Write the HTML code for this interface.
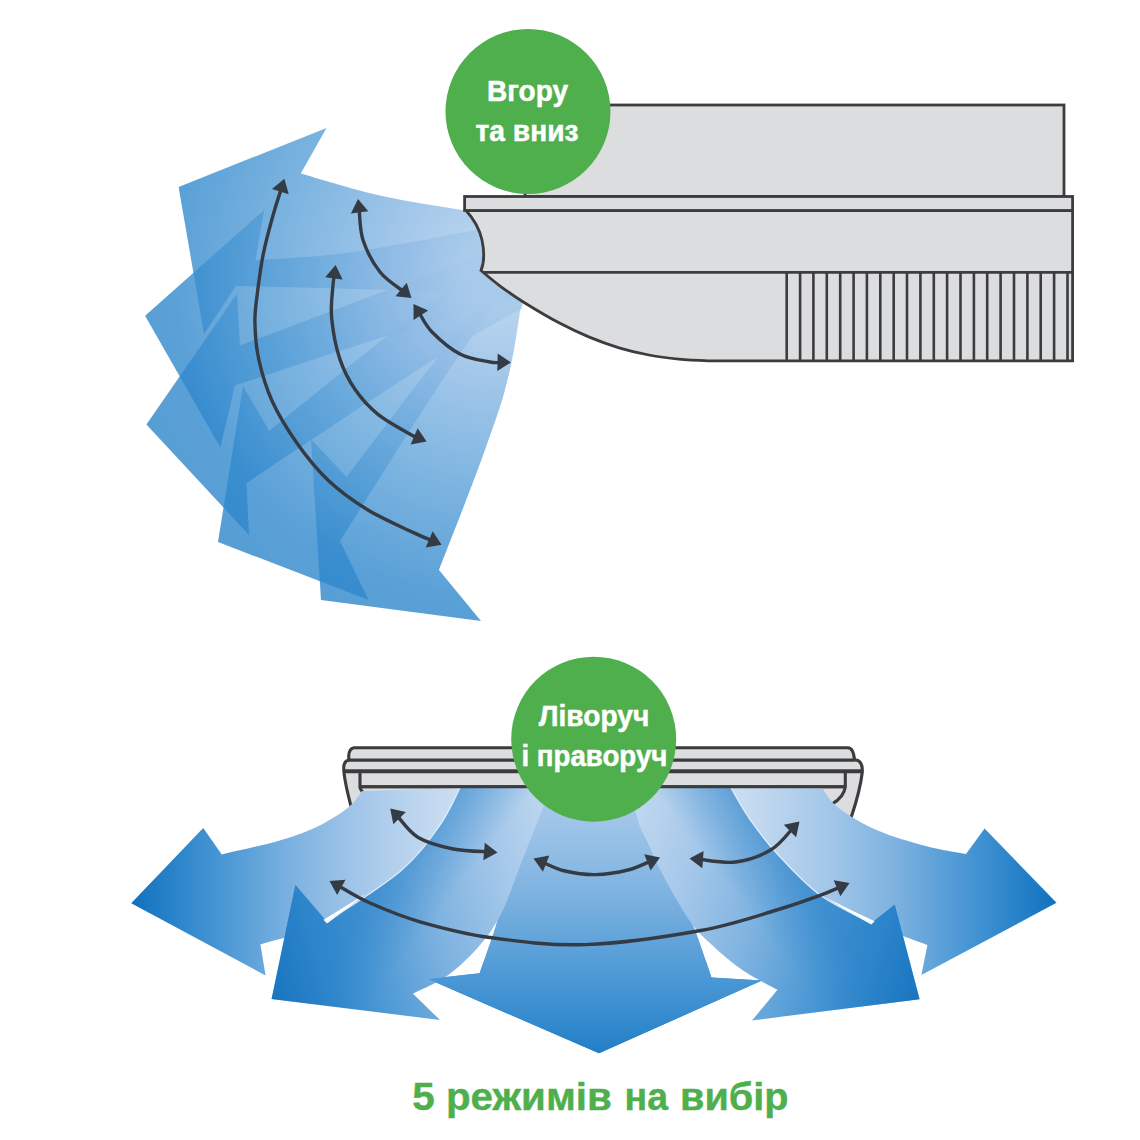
<!DOCTYPE html>
<html lang="uk"><head><meta charset="utf-8"><title>5 режимів на вибір</title>
<style>
html,body{margin:0;padding:0;background:#fff;}
body{width:1140px;height:1140px;overflow:hidden;position:relative;font-family:"Liberation Sans",sans-serif;}
svg{position:absolute;left:0;top:0;display:block;}
text{font-family:"Liberation Sans",sans-serif;font-weight:bold;}
</style></head><body>
<svg width="1140" height="1140" viewBox="0 0 1140 1140">
<defs>
<radialGradient id="fan" gradientUnits="userSpaceOnUse" cx="500" cy="272" r="390">
<stop offset="0" stop-color="#aacbeb"/>
<stop offset="0.1" stop-color="#a6c9ea"/>
<stop offset="0.26" stop-color="#8ebae5"/>
<stop offset="0.52" stop-color="#62a5da"/>
<stop offset="0.84" stop-color="#3189cd"/>
<stop offset="1" stop-color="#2c85ca"/>
</radialGradient>
<clipPath id="fanclip"><path d="M100,80 L560,80 L560,318 L523,300 C520,330 512,365 505,390 L600,500 L600,660 L100,660 Z"/></clipPath>

<linearGradient id="gL1" gradientUnits="userSpaceOnUse" x1="459" y1="0" x2="131" y2="0"><stop offset="0" stop-color="#cbdef2"/><stop offset="0.07" stop-color="#c5daf0"/><stop offset="0.29" stop-color="#a5c8ea"/><stop offset="0.5" stop-color="#7fb3e0"/><stop offset="0.715" stop-color="#4b98d5"/><stop offset="0.85" stop-color="#2e86cb"/><stop offset="1" stop-color="#1171be"/></linearGradient>
<linearGradient id="gR1" gradientUnits="userSpaceOnUse" x1="728.6" y1="0" x2="1056.6" y2="0"><stop offset="0" stop-color="#cbdef2"/><stop offset="0.07" stop-color="#c5daf0"/><stop offset="0.29" stop-color="#a5c8ea"/><stop offset="0.5" stop-color="#7fb3e0"/><stop offset="0.715" stop-color="#4b98d5"/><stop offset="0.85" stop-color="#2e86cb"/><stop offset="1" stop-color="#1171be"/></linearGradient>
<linearGradient id="gL2" gradientUnits="userSpaceOnUse" x1="621.4" y1="895.8" x2="271.6" y2="999"><stop offset="0" stop-color="#cbdef2"/><stop offset="0.07" stop-color="#c5daf0"/><stop offset="0.29" stop-color="#a5c8ea"/><stop offset="0.5" stop-color="#7fb3e0"/><stop offset="0.715" stop-color="#4b98d5"/><stop offset="0.85" stop-color="#2e86cb"/><stop offset="1" stop-color="#0868b8"/></linearGradient>
<linearGradient id="gR2" gradientUnits="userSpaceOnUse" x1="569.9" y1="896.1" x2="919.6" y2="999.3"><stop offset="0" stop-color="#cbdef2"/><stop offset="0.07" stop-color="#c5daf0"/><stop offset="0.29" stop-color="#a5c8ea"/><stop offset="0.5" stop-color="#7fb3e0"/><stop offset="0.715" stop-color="#4b98d5"/><stop offset="0.85" stop-color="#2e86cb"/><stop offset="1" stop-color="#0868b8"/></linearGradient>
<linearGradient id="gC" gradientUnits="userSpaceOnUse" x1="0" y1="692" x2="0" y2="1092"><stop offset="0" stop-color="#cbdef2"/><stop offset="0.07" stop-color="#c5daf0"/><stop offset="0.29" stop-color="#a5c8ea"/><stop offset="0.5" stop-color="#7fb3e0"/><stop offset="0.715" stop-color="#4b98d5"/><stop offset="0.85" stop-color="#2e86cb"/><stop offset="1" stop-color="#1171be"/></linearGradient>
</defs>
<rect width="1140" height="1140" fill="#fff"/>

<g clip-path="url(#fanclip)" fill="url(#fan)" fill-opacity="0.8">
<path d="M530.0,222.0 C519.5,220.2 492.0,215.4 467.0,211.0 C442.0,206.6 407.7,201.8 380.0,195.5 C352.3,189.2 314.0,177.1 300.8,173.4 L326.5,128.0 L178.6,187.0 L204.0,334.0 L236.0,286.0 C261.7,286.7 338.5,288.3 390.0,290.0 C441.5,291.7 519.2,295.0 545.0,296.0 Z"/>
<path d="M530.0,221.0 C521.2,222.5 507.0,224.8 477.0,230.0 C447.0,235.2 386.9,247.5 350.0,252.5 C313.1,257.5 271.2,258.9 255.5,260.2 L264.2,210.0 L145.1,315.7 L220.3,447.6 L235.0,385.5 C260.3,377.2 335.3,351.9 387.0,336.0 C438.7,320.1 518.7,297.7 545.0,290.0 Z"/>
<path d="M530.0,237.0 C506.7,245.7 438.3,270.9 390.0,289.0 C341.7,307.1 265.0,336.2 240.0,345.6 L237.1,293.5 L146.4,424.4 L249.0,535.0 L246.5,483.0 C278.4,462.0 388.2,388.2 438.0,357.0 C487.8,325.8 527.2,306.2 545.0,296.0 Z"/>
<path d="M530.0,225.0 C506.2,243.5 430.4,301.7 387.0,336.0 C343.6,370.3 288.9,415.1 269.3,430.9 L243.0,386.0 L218.0,542.0 L368.6,600.0 L340.0,541.0 C356.7,514.8 406.7,434.2 440.0,384.0 C473.3,333.8 523.3,264.0 540.0,240.0 Z"/>
<path d="M530.0,240.0 C514.7,259.5 468.6,317.5 438.0,357.0 C407.4,396.5 361.8,457.0 346.5,477.0 L311.0,439.0 L321.0,600.0 L481.0,621.0 L439.0,570.0 C446.7,550.0 473.2,483.3 485.0,450.0 C496.8,416.7 503.2,400.0 510.0,370.0 C516.8,340.0 523.3,286.7 526.0,270.0 Z"/>
</g>
<g stroke="#3c3c3e" stroke-width="2.8" fill="#dcddde" stroke-linejoin="miter">
<rect x="525" y="105" width="539" height="91.5"/>
<path d="M466,210.5 C472,217 479,227 482,240 C484.5,252 484.5,262 481,270.5 C484.1,273.1 492.7,280.5 499.8,285.8 C506.9,291.1 513.8,296.0 523.7,302.2 C533.7,308.4 548.6,317.3 559.5,323.1 C570.4,328.9 579.4,333.0 589.3,337.1 C599.2,341.2 609.2,344.8 619.1,347.8 C629.0,350.8 639.0,353.1 648.9,355.0 C658.8,356.9 668.8,358.2 678.8,359.2 C688.8,360.2 698.4,360.5 708.6,360.8 C718.8,361.1 727.1,360.9 740.0,360.9 C752.9,360.9 778.3,360.9 786.0,360.9 L1072.6,360.9 L1072.6,210.5 Z"/>
<rect x="464.6" y="196.5" width="608" height="14"/>
<path d="M483,272.3 L1072.6,272.3" fill="none"/>
<path d="M786.7,272.3 V360.9 M800.1,272.3 V360.9 M813.4,272.3 V360.9 M826.8,272.3 V360.9 M840.2,272.3 V360.9 M853.6,272.3 V360.9 M866.9,272.3 V360.9 M880.3,272.3 V360.9 M893.7,272.3 V360.9 M907.0,272.3 V360.9 M920.4,272.3 V360.9 M933.8,272.3 V360.9 M947.1,272.3 V360.9 M960.5,272.3 V360.9 M973.9,272.3 V360.9 M987.2,272.3 V360.9 M1000.6,272.3 V360.9 M1014.0,272.3 V360.9 M1027.4,272.3 V360.9 M1040.7,272.3 V360.9 M1054.1,272.3 V360.9 M1067.5,272.3 V360.9 " fill="none" stroke-width="2.6"/>
</g>
<path d="M281.6,187.8 C280.1,192.5 276.0,204.7 272.9,215.8 C269.8,226.9 265.8,241.5 263.2,254.4 C260.6,267.3 258.8,281.7 257.4,293.0 C256.0,304.3 254.7,311.1 254.9,322.0 C255.1,332.9 255.7,345.4 258.6,358.6 C261.5,371.8 265.7,386.9 272.1,401.0 C278.5,415.1 287.9,430.3 297.2,443.5 C306.5,456.7 316.5,469.2 328.1,480.2 C339.7,491.1 352.6,500.5 366.7,509.2 C380.8,517.9 402.0,527.1 413.0,532.4 C424.0,537.7 429.6,539.5 432.9,541.0" fill="none" stroke="#343b44" stroke-width="3.4"/><polygon points="284.4,178.8 288.7,194.3 272.0,189.1" fill="#343b44"/><polygon points="441.6,544.7 425.7,547.4 432.7,531.3" fill="#343b44"/>
<path d="M334.4,274.4 C334.1,276.6 333.2,280.6 332.7,288.0 C332.2,295.4 330.5,306.8 331.7,318.6 C332.9,330.4 335.8,346.8 339.7,358.6 C343.6,370.4 348.7,380.2 355.1,389.5 C361.5,398.8 368.7,406.9 378.3,414.6 C387.9,422.3 406.4,431.9 413.0,435.8 C419.6,439.7 417.1,437.5 417.9,437.9" fill="none" stroke="#343b44" stroke-width="3.4"/><polygon points="335.6,265.0 342.6,279.5 325.2,277.3" fill="#343b44"/><polygon points="426.6,441.6 410.7,444.4 417.6,428.3" fill="#343b44"/>
<path d="M359.1,208.4 C359.8,213.7 359.5,229.4 363.0,240.0 C366.5,250.6 373.1,263.3 380.0,272.0 C386.9,280.7 400.2,288.7 404.2,292.0" fill="none" stroke="#343b44" stroke-width="3.4"/><polygon points="358.0,199.0 368.3,211.3 350.9,213.5" fill="#343b44"/><polygon points="411.5,298.0 395.5,296.2 406.7,282.7" fill="#343b44"/>
<path d="M418.7,311.9 C420.9,315.2 425.1,325.0 432.0,332.0 C438.9,339.0 450.3,349.0 460.0,354.0 C469.7,359.0 483.1,360.6 490.0,362.0 C496.9,363.4 499.6,362.2 501.6,362.3" fill="none" stroke="#343b44" stroke-width="3.4"/><polygon points="413.5,304.0 428.2,310.4 413.6,320.1" fill="#343b44"/><polygon points="511.0,362.5 497.3,370.9 497.7,353.4" fill="#343b44"/>
<circle cx="528" cy="111.5" r="82.5" fill="#4faf4d"/>
<text x="527.5" y="101" font-size="29" fill="#fff" stroke="#fff" stroke-width="0.5" text-anchor="middle" textLength="81" lengthAdjust="spacingAndGlyphs">Вгору</text>
<text x="527" y="141" font-size="29" fill="#fff" stroke="#fff" stroke-width="0.5" text-anchor="middle" textLength="103" lengthAdjust="spacingAndGlyphs">та вниз</text>
<g stroke="#3c3c3e" stroke-width="3.1" fill="#dcddde" stroke-linejoin="round">
<path d="M349,760 Q343.7,761 343.7,768 C344,780 348,795 351.5,808 L851,818 C856,803 860.5,788 862.3,772 Q862.8,761 856,760 Z"/>
<path d="M349,760 Q347.5,749 354,747.7 L848,747.7 Q853.5,748 854.5,760 Z"/>
<path d="M360,771.2 L360,786.7 L845.3,786.7 L845.3,771.2" />
<path d="M360,786.7 Q360.5,791 364.5,793" fill="none"/>
<path d="M845.3,786.7 Q844,797 832,804" fill="none"/>
<path d="M344,771.2 L862,771.2" fill="none" stroke-width="4"/>
</g>
<defs>
<clipPath id="cL1"><path d="M362.0,791.0 C359.7,793.8 355.6,801.7 348.0,807.7 C340.4,813.7 328.2,821.5 316.5,827.0 C304.8,832.5 293.8,836.4 278.0,841.0 C262.2,845.6 231.2,852.2 221.8,854.4 L260.4,944.6 C271.5,940.8 303.6,934.1 327.0,921.8 C350.4,909.5 381.9,887.0 400.7,870.9 C419.5,854.8 430.1,838.8 440.0,825.0 C449.9,811.2 456.7,794.2 460.0,788.0 Z"/></clipPath>
<clipPath id="cR1"><path d="M822.0,788.0 C824.7,791.2 828.9,800.4 838.0,807.4 C847.1,814.4 861.9,823.6 876.5,830.0 C891.1,836.4 910.7,842.0 925.6,846.0 C940.5,850.0 959.3,852.7 966.0,854.0 L927.4,945.0 C918.0,941.3 888.9,931.3 871.0,923.0 C853.1,914.7 835.5,906.4 820.0,895.0 C804.5,883.6 789.7,867.3 778.0,854.7 C766.3,842.1 757.8,830.7 750.0,819.6 C742.2,808.5 734.2,793.3 731.0,788.0 Z"/></clipPath>
<clipPath id="cL2"><path d="M460.0,788.0 C456.7,794.2 449.9,811.2 440.0,825.0 C430.1,838.8 419.5,854.8 400.7,870.9 C381.9,887.0 339.3,913.3 327.0,921.8 L413.0,993.7 C418.9,990.6 437.1,983.1 448.3,975.0 C459.5,966.9 471.1,955.3 480.0,945.0 C488.9,934.7 494.8,926.2 501.4,913.2 C508.0,900.2 514.1,881.1 519.7,866.9 C525.3,852.7 531.1,838.0 535.0,828.0 C538.9,818.0 541.2,813.7 542.9,807.0 C544.6,800.3 544.6,791.2 545.0,788.0 Z"/></clipPath>
<clipPath id="cR2"><path d="M731.0,788.0 C734.2,793.3 742.2,808.5 750.0,819.6 C757.8,830.7 766.3,842.1 778.0,854.7 C789.7,867.3 804.5,883.6 820.0,895.0 C835.5,906.4 862.7,918.5 871.2,923.2 L777.5,989.8 C771.8,986.6 753.9,978.0 743.0,970.5 C732.1,963.0 720.9,953.2 712.0,945.0 C703.1,936.8 697.8,932.4 689.8,921.0 C681.8,909.6 670.6,889.4 663.7,876.5 C656.8,863.6 652.5,852.7 648.3,843.7 C644.1,834.7 641.6,831.8 638.6,822.5 C635.6,813.2 631.4,793.8 630.0,788.0 Z"/></clipPath>
<clipPath id="cCh"><rect x="400" y="962" width="400" height="100"/></clipPath>
<radialGradient id="hl" gradientUnits="objectBoundingBox" cx="0.5" cy="0.5" r="0.5">
<stop offset="0" stop-color="#fff" stop-opacity="0.62"/><stop offset="0.45" stop-color="#fff" stop-opacity="0.42"/><stop offset="1" stop-color="#fff" stop-opacity="0"/></radialGradient>
<linearGradient id="shL2" gradientUnits="userSpaceOnUse" x1="435" y1="822" x2="482" y2="858"><stop offset="0" stop-color="#2a82c9" stop-opacity="0.5"/><stop offset="1" stop-color="#2a82c9" stop-opacity="0"/></linearGradient>
<linearGradient id="shR2" gradientUnits="userSpaceOnUse" x1="752.6" y1="822" x2="705.6" y2="858"><stop offset="0" stop-color="#2a82c9" stop-opacity="0.5"/><stop offset="1" stop-color="#2a82c9" stop-opacity="0"/></linearGradient>
</defs>
<path d="M362.0,791.0 C359.7,793.8 355.6,801.7 348.0,807.7 C340.4,813.7 328.2,821.5 316.5,827.0 C304.8,832.5 293.8,836.4 278.0,841.0 C262.2,845.6 231.2,852.2 221.8,854.4 L203.2,828.0 L131.2,903.2 L265.6,975.4 L260.4,944.6 C271.5,940.8 303.6,934.1 327.0,921.8 C350.4,909.5 381.9,887.0 400.7,870.9 C419.5,854.8 430.1,838.8 440.0,825.0 C449.9,811.2 456.7,794.2 460.0,788.0 Z" fill="url(#gL1)"/>
<path d="M822.0,788.0 C824.7,791.2 828.9,800.4 838.0,807.4 C847.1,814.4 861.9,823.6 876.5,830.0 C891.1,836.4 910.7,842.0 925.6,846.0 C940.5,850.0 959.3,852.7 966.0,854.0 L984.6,828.4 L1056.5,902.8 L921.4,975.1 L927.4,945.0 C918.0,941.3 888.9,931.3 871.0,923.0 C853.1,914.7 835.5,906.4 820.0,895.0 C804.5,883.6 789.7,867.3 778.0,854.7 C766.3,842.1 757.8,830.7 750.0,819.6 C742.2,808.5 734.2,793.3 731.0,788.0 Z" fill="url(#gR1)"/>
<path d="M535.0,788.0 C533.3,796.0 529.5,819.8 525.0,836.0 C520.5,852.2 512.9,869.8 508.0,885.0 C503.1,900.2 500.1,912.3 495.4,927.0 C490.7,941.7 482.2,965.6 479.6,973.3 L428.0,979.0 L599.0,1053.3 L762.0,980.5 L711.5,977.5 C708.5,969.1 700.6,943.2 693.7,927.0 C686.8,910.8 677.3,896.2 670.0,880.0 C662.7,863.8 655.0,845.3 650.0,830.0 C645.0,814.7 641.7,795.0 640.0,788.0 Z" fill="url(#gC)"/>
<path d="M460.0,788.0 C456.7,794.2 449.9,811.2 440.0,825.0 C430.1,838.8 419.5,854.8 400.7,870.9 C381.9,887.0 339.3,913.3 327.0,921.8 L295.4,885.0 L271.6,999.0 L440.0,1020.0 L413.0,993.7 C418.9,990.6 437.1,983.1 448.3,975.0 C459.5,966.9 471.1,955.3 480.0,945.0 C488.9,934.7 494.8,926.2 501.4,913.2 C508.0,900.2 514.1,881.1 519.7,866.9 C525.3,852.7 531.1,838.0 535.0,828.0 C538.9,818.0 541.2,813.7 542.9,807.0 C544.6,800.3 544.6,791.2 545.0,788.0 Z" fill="url(#gL2)"/>
<path d="M731.0,788.0 C734.2,793.3 742.2,808.5 750.0,819.6 C757.8,830.7 766.3,842.1 778.0,854.7 C789.7,867.3 804.5,883.6 820.0,895.0 C835.5,906.4 862.7,918.5 871.2,923.2 L894.7,904.6 L919.6,999.3 L752.0,1020.4 L777.5,989.8 C771.8,986.6 753.9,978.0 743.0,970.5 C732.1,963.0 720.9,953.2 712.0,945.0 C703.1,936.8 697.8,932.4 689.8,921.0 C681.8,909.6 670.6,889.4 663.7,876.5 C656.8,863.6 652.5,852.7 648.3,843.7 C644.1,834.7 641.6,831.8 638.6,822.5 C635.6,813.2 631.4,793.8 630.0,788.0 Z" fill="url(#gR2)"/>
<path d="M460.0,788.0 C456.7,794.2 449.9,811.2 440.0,825.0 C430.1,838.8 419.5,854.8 400.7,870.9 C381.9,887.0 339.3,913.3 327.0,921.8 L295.4,885.0 L271.6,999.0 L440.0,1020.0 L413.0,993.7 C418.9,990.6 437.1,983.1 448.3,975.0 C459.5,966.9 471.1,955.3 480.0,945.0 C488.9,934.7 494.8,926.2 501.4,913.2 C508.0,900.2 514.1,881.1 519.7,866.9 C525.3,852.7 531.1,838.0 535.0,828.0 C538.9,818.0 541.2,813.7 542.9,807.0 C544.6,800.3 544.6,791.2 545.0,788.0 Z" fill="url(#shL2)"/>
<path d="M731.0,788.0 C734.2,793.3 742.2,808.5 750.0,819.6 C757.8,830.7 766.3,842.1 778.0,854.7 C789.7,867.3 804.5,883.6 820.0,895.0 C835.5,906.4 862.7,918.5 871.2,923.2 L894.7,904.6 L919.6,999.3 L752.0,1020.4 L777.5,989.8 C771.8,986.6 753.9,978.0 743.0,970.5 C732.1,963.0 720.9,953.2 712.0,945.0 C703.1,936.8 697.8,932.4 689.8,921.0 C681.8,909.6 670.6,889.4 663.7,876.5 C656.8,863.6 652.5,852.7 648.3,843.7 C644.1,834.7 641.6,831.8 638.6,822.5 C635.6,813.2 631.4,793.8 630.0,788.0 Z" fill="url(#shR2)"/>
<path d="M323.5,919.8 Q343,908 366,893.5 Q345,910.5 327,923.4 Z" fill="#fff"/>
<path d="M874.7,921.2 Q850,910 826,897.5 Q848,912 871.2,924.6 Z" fill="#fff"/>
<g clip-path="url(#cCh)"><path d="M535.0,788.0 C533.3,796.0 529.5,819.8 525.0,836.0 C520.5,852.2 512.9,869.8 508.0,885.0 C503.1,900.2 500.1,912.3 495.4,927.0 C490.7,941.7 482.2,965.6 479.6,973.3 L428.0,979.0 L599.0,1053.3 L762.0,980.5 L711.5,977.5 C708.5,969.1 700.6,943.2 693.7,927.0 C686.8,910.8 677.3,896.2 670.0,880.0 C662.7,863.8 655.0,845.3 650.0,830.0 C645.0,814.7 641.7,795.0 640.0,788.0 Z" fill="url(#gC)"/></g>
<path d="M460.0,788.0 C456.7,794.2 449.9,811.2 440.0,825.0 C430.1,838.8 419.5,854.8 400.7,870.9 C381.9,887.0 339.3,913.3 327.0,921.8" fill="none" stroke="#eef5fc" stroke-width="1.3" stroke-opacity="0.8"/>
<path d="M731.0,788.0 C734.2,793.3 742.2,808.5 750.0,819.6 C757.8,830.7 766.3,842.1 778.0,854.7 C789.7,867.3 804.5,883.6 820.0,895.0 C835.5,906.4 862.7,918.5 871.2,923.2" fill="none" stroke="#eef5fc" stroke-width="1.3" stroke-opacity="0.8"/>
<path d="M360,786.7 L845.3,786.7" stroke="#3c3c3e" stroke-width="3.1" fill="none"/>
<path d="M396.8,815.3 C400.3,819.0 408.8,831.9 418.2,837.5 C427.6,843.1 441.7,846.6 453.3,849.0 C464.9,851.4 482.3,851.4 488.1,851.8" fill="none" stroke="#343b44" stroke-width="3.4"/><polygon points="390.2,808.5 405.9,812.1 393.3,824.3" fill="#343b44"/><polygon points="497.5,852.6 483.3,860.2 484.8,842.8" fill="#343b44"/>
<path d="M542.3,862.1 C546.1,863.6 556.1,868.9 565.0,871.0 C573.9,873.1 584.9,874.8 595.4,874.6 C605.9,874.4 618.7,872.3 628.0,870.0 C637.3,867.7 647.3,862.4 651.2,860.9" fill="none" stroke="#343b44" stroke-width="3.4"/><polygon points="533.5,858.6 549.3,855.4 542.9,871.7" fill="#343b44"/><polygon points="660.0,857.5 650.6,870.6 644.2,854.3" fill="#343b44"/>
<path d="M698.9,859.3 C705.1,859.7 723.8,863.6 735.8,862.0 C747.8,860.4 761.5,855.4 771.0,849.8 C780.5,844.2 789.2,831.8 792.8,828.2" fill="none" stroke="#343b44" stroke-width="3.4"/><polygon points="689.5,858.6 703.6,850.9 702.3,868.3" fill="#343b44"/><polygon points="799.5,821.5 796.1,837.2 783.8,824.8" fill="#343b44"/>
<path d="M337.8,885.5 C343.2,888.4 356.3,897.0 370.0,903.0 C383.7,909.0 400.0,916.0 420.0,921.8 C440.0,927.5 462.5,933.7 490.0,937.5 C517.5,941.3 549.9,945.8 585.0,944.6 C620.1,943.4 668.2,936.4 700.7,930.5 C733.2,924.6 760.1,914.9 780.0,909.0 C799.9,903.1 809.9,899.1 820.0,895.4 C830.1,891.7 837.3,888.1 840.8,886.7" fill="none" stroke="#343b44" stroke-width="3.4"/><polygon points="329.5,881.0 345.5,879.8 337.2,895.1" fill="#343b44"/><polygon points="849.5,883.0 840.4,896.3 833.7,880.2" fill="#343b44"/>
<circle cx="593.7" cy="739.2" r="82.5" fill="#4faf4d"/>
<text x="594" y="726" font-size="29" fill="#fff" stroke="#fff" stroke-width="0.5" text-anchor="middle" textLength="110.5" lengthAdjust="spacingAndGlyphs">Ліворуч</text>
<text x="594.4" y="766" font-size="29" fill="#fff" stroke="#fff" stroke-width="0.5" text-anchor="middle" textLength="146" lengthAdjust="spacingAndGlyphs">і праворуч</text>
<text y="1110.3" font-size="39.7" fill="#4faf4d" stroke="#4faf4d" stroke-width="0.4"><tspan x="412.3" textLength="199.5" lengthAdjust="spacingAndGlyphs">5 режимів</tspan> <tspan x="624.5" textLength="43.5" lengthAdjust="spacingAndGlyphs">на</tspan> <tspan x="680">вибір</tspan></text>
</svg></body></html>
